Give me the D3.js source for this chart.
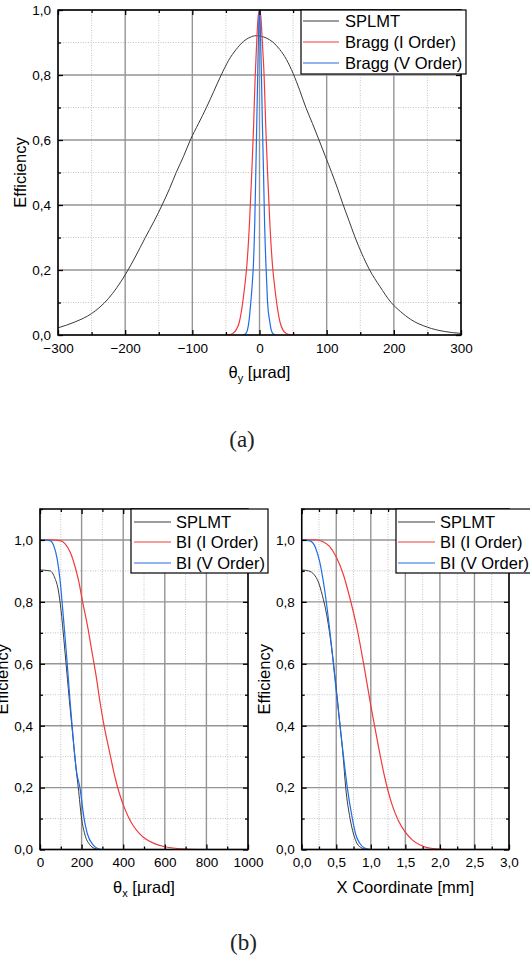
<!DOCTYPE html>
<html>
<head>
<meta charset="utf-8">
<script src="https://cdn.jsdelivr.net/npm/d3@7"></script>
<style>
  html, body { margin: 0; padding: 0; background: #fff; }
  svg { display: block; }
</style>
</head>
<body>
<svg id="chart" width="530" height="958"></svg>
<script>
// ---------------- DATA ----------------
// Panel (a): efficiency vs theta_y [µrad]
const splmtA = [[-300,0.022],[-275,0.04],[-250,0.066],[-225,0.112],[-200,0.185],[-185,0.24],[-170,0.30],[-157,0.35],[-145,0.40],[-134,0.45],[-124,0.50],[-113,0.55],[-103,0.60],[-91,0.65],[-79,0.70],[-68,0.75],[-57,0.80],[-46,0.845],[-35,0.878],[-24,0.903],[-14,0.916],[-5,0.921],[0,0.92],[10,0.914],[20,0.901],[30,0.879],[40,0.848],[50,0.805],[60,0.752],[69,0.70],[79,0.65],[88.6,0.60],[98,0.55],[107.4,0.50],[116,0.452],[123.8,0.405],[133,0.353],[142,0.302],[152,0.252],[164,0.20],[179,0.15],[196,0.10],[210,0.072],[225,0.048],[250,0.024],[275,0.011],[300,0.005]];
const braggIA = [[-50,0],[-45,0.001],[-40,0.005],[-35,0.015],[-30,0.04],[-25,0.10],[-22,0.15],[-19,0.21],[-15,0.34],[-11.5,0.50],[-9,0.63],[-6.5,0.79],[-4,0.91],[-2,0.98],[0,1.0],[2,0.98],[4,0.91],[7,0.79],[9.5,0.63],[12,0.50],[15.5,0.34],[19.5,0.21],[22.5,0.15],[25.5,0.10],[30.5,0.04],[35,0.015],[40,0.005],[45,0.001],[50,0]];
const braggVA = [[-25,0],[-21,0.003],[-18,0.015],[-15.5,0.045],[-13,0.10],[-11,0.15],[-9,0.22],[-7,0.35],[-5.5,0.50],[-4,0.66],[-2.5,0.82],[-1,0.96],[0,1.0],[1,0.96],[2.7,0.82],[4.2,0.66],[6,0.50],[7.5,0.35],[9.5,0.22],[11,0.15],[12,0.10],[15,0.045],[17.5,0.015],[20.5,0.003],[24,0]];

// Panel (b) left: efficiency vs theta_x [µrad]
const splmtB1 = [[0,0.903],[48,0.90],[72,0.876],[88,0.838],[101,0.774],[115,0.677],[128,0.58],[144,0.462],[160,0.354],[172,0.27],[184,0.20],[200,0.10],[215,0.05],[240,0.015],[260,0.004],[285,0]];
const biIB1 = [[0,1.0],[50,1.0],[96,0.998],[120,0.988],[147,0.958],[168,0.915],[185,0.87],[205,0.80],[229,0.72],[252,0.63],[270,0.56],[290,0.47],[308,0.40],[336,0.31],[360,0.235],[380,0.185],[400,0.145],[425,0.105],[450,0.075],[475,0.054],[500,0.038],[550,0.019],[600,0.009],[650,0.004],[700,0.0015],[800,0]];
const biVB1 = [[0,1.0],[48,0.998],[67,0.98],[83,0.937],[96,0.873],[112,0.754],[128,0.625],[144,0.484],[160,0.354],[176,0.25],[192,0.20],[212,0.10],[228,0.05],[255,0.015],[275,0.004],[300,0]];

// Panel (b) right: efficiency vs X coordinate [mm]
const splmtB2 = [[0,0.903],[0.1,0.90],[0.18,0.888],[0.24,0.865],[0.30,0.82],[0.36,0.76],[0.41,0.69],[0.46,0.60],[0.51,0.50],[0.555,0.40],[0.60,0.30],[0.637,0.20],[0.70,0.10],[0.75,0.05],[0.80,0.02],[0.87,0.005],[0.95,0]];
const biIB2 = [[0,1.0],[0.2,1.0],[0.3,0.995],[0.4,0.98],[0.5,0.945],[0.6,0.89],[0.7,0.81],[0.8,0.715],[0.9,0.595],[1.0,0.465],[1.1,0.345],[1.2,0.235],[1.3,0.15],[1.4,0.093],[1.5,0.056],[1.6,0.031],[1.7,0.016],[1.8,0.007],[1.9,0.003],[2.0,0.001],[2.1,0]];
const biVB2 = [[0,1.0],[0.12,0.997],[0.20,0.975],[0.26,0.93],[0.31,0.87],[0.35,0.81],[0.40,0.72],[0.455,0.61],[0.505,0.50],[0.555,0.40],[0.60,0.31],[0.66,0.20],[0.733,0.10],[0.78,0.05],[0.84,0.02],[0.91,0.005],[1.0,0]];

// Tick values
const xMajorA = [-300,-200,-100,0,100,200,300];
const xMinorA = [-250,-150,-50,50,150,250];
const yMajorA = [0,0.2,0.4,0.6,0.8,1.0];
const yMinorA = [0.1,0.3,0.5,0.7,0.9];
const xMajorB1 = [0,200,400,600,800,1000];
const xMinorB1 = [100,300,500,700,900];
const xMajorB2 = [0,0.5,1.0,1.5,2.0,2.5,3.0];
const xMinorB2 = [0.25,0.75,1.25,1.75,2.25,2.75];
const yMajorB = [0,0.2,0.4,0.6,0.8,1.0];
const yMinorB = [0.1,0.3,0.5,0.7,0.9,1.1];

// Legend labels
const legendA = ["SPLMT","Bragg (I Order)","Bragg (V Order)"];
const legendB = ["SPLMT","BI (I Order)","BI (V Order)"];

// ---------------- STYLE ----------------
const COL = ["#3a3a3a", "#f23a3a", "#1f6de6"];
const WID = [1.0, 1.2, 1.2];
const SANS = "'Liberation Sans', Arial, Helvetica, sans-serif";
const SERIF = "'Liberation Serif', 'Times New Roman', serif";

const loc = d3.formatLocale({decimal: ",", thousands: ".", grouping: [3], currency: ["", ""], minus: "\u2212"});
const fInt = loc.format("d");
const f1 = loc.format(".1f");

const svg = d3.select("#chart");

function panel(cfg) {
  const x = d3.scaleLinear().domain(cfg.xDomain).range([cfg.left, cfg.right]);
  const y = d3.scaleLinear().domain(cfg.yDomain).range([cfg.bottom, cfg.top]);
  const g = svg.append("g");

  // minor grid (dotted)
  g.append("g").selectAll("line").data(cfg.xMinor).join("line")
    .attr("x1", d => x(d)).attr("x2", d => x(d))
    .attr("y1", cfg.top).attr("y2", cfg.bottom)
    .attr("stroke", "#c4c4c4").attr("stroke-width", 1).attr("stroke-dasharray", "1,1.5");
  g.append("g").selectAll("line").data(cfg.yMinor).join("line")
    .attr("x1", cfg.left).attr("x2", cfg.right)
    .attr("y1", d => y(d)).attr("y2", d => y(d))
    .attr("stroke", "#c4c4c4").attr("stroke-width", 1).attr("stroke-dasharray", "1,1.5");
  // major grid (solid)
  g.append("g").selectAll("line").data(cfg.xMajor).join("line")
    .attr("x1", d => x(d)).attr("x2", d => x(d))
    .attr("y1", cfg.top).attr("y2", cfg.bottom)
    .attr("stroke", "#959595").attr("stroke-width", 1.4);
  g.append("g").selectAll("line").data(cfg.yMajor).join("line")
    .attr("x1", cfg.left).attr("x2", cfg.right)
    .attr("y1", d => y(d)).attr("y2", d => y(d))
    .attr("stroke", "#959595").attr("stroke-width", 1.4);

  // curves
  const line = d3.line().x(d => x(d[0])).y(d => y(d[1])).curve(d3.curveMonotoneX);
  const clipId = "clip" + cfg.id;
  svg.append("clipPath").attr("id", clipId).append("rect")
    .attr("x", cfg.left).attr("y", cfg.top - 2).attr("width", cfg.right - cfg.left).attr("height", cfg.bottom - cfg.top + 2);
  const cg = g.append("g").attr("clip-path", `url(#${clipId})`);
  cfg.series.forEach((s, i) => {
    cg.append("path").datum(s).attr("d", line)
      .attr("fill", "none").attr("stroke", COL[i]).attr("stroke-width", WID[i]);
  });

  // axes: inward major and minor ticks on all four sides
  function styleAxis(sel) {
    sel.select(".domain").remove();
    sel.selectAll(".tick line").attr("stroke", "#000").attr("stroke-width", 1.3);
    sel.selectAll("text").attr("font-family", SANS).attr("font-size", 13.5).attr("fill", "#000");
  }
  g.append("g").attr("transform", `translate(0,${cfg.bottom})`)
    .call(d3.axisBottom(x).tickValues(cfg.xMajor).tickSize(-5).tickSizeOuter(0).tickPadding(8).tickFormat(cfg.xFmt))
    .call(styleAxis);
  g.append("g").attr("transform", `translate(0,${cfg.bottom})`)
    .call(d3.axisBottom(x).tickValues(cfg.xMinor).tickSize(-3).tickSizeOuter(0).tickFormat(""))
    .call(styleAxis);
  g.append("g").attr("transform", `translate(0,${cfg.top})`)
    .call(d3.axisTop(x).tickValues(cfg.xMajor).tickSize(-5).tickSizeOuter(0).tickFormat(""))
    .call(styleAxis);
  g.append("g").attr("transform", `translate(0,${cfg.top})`)
    .call(d3.axisTop(x).tickValues(cfg.xMinor).tickSize(-3).tickSizeOuter(0).tickFormat(""))
    .call(styleAxis);
  g.append("g").attr("transform", `translate(${cfg.left},0)`)
    .call(d3.axisLeft(y).tickValues(cfg.yMajor).tickSize(-5).tickSizeOuter(0).tickPadding(7).tickFormat(f1))
    .call(styleAxis);
  g.append("g").attr("transform", `translate(${cfg.left},0)`)
    .call(d3.axisLeft(y).tickValues(cfg.yMinor).tickSize(-3).tickSizeOuter(0).tickFormat(""))
    .call(styleAxis);
  g.append("g").attr("transform", `translate(${cfg.right},0)`)
    .call(d3.axisRight(y).tickValues(cfg.yMajor).tickSize(-5).tickSizeOuter(0).tickFormat(""))
    .call(styleAxis);
  g.append("g").attr("transform", `translate(${cfg.right},0)`)
    .call(d3.axisRight(y).tickValues(cfg.yMinor).tickSize(-3).tickSizeOuter(0).tickFormat(""))
    .call(styleAxis);

  // frame
  g.append("rect").attr("x", cfg.left).attr("y", cfg.top)
    .attr("width", cfg.right - cfg.left).attr("height", cfg.bottom - cfg.top)
    .attr("fill", "none").attr("stroke", "#000").attr("stroke-width", 1.5);

  // x title
  const xt = g.append("text").attr("x", (cfg.left + cfg.right) / 2).attr("y", cfg.bottom + 43)
    .attr("text-anchor", "middle").attr("font-family", SANS).attr("font-size", 16.5).attr("fill", "#000");
  cfg.xTitle.forEach(p => {
    const t = xt.append("tspan").text(p.t);
    if (p.sub) t.attr("font-size", 11).attr("dy", 4);
    else if (p.after) t.attr("dy", -4);
  });
  // y title
  g.append("text").attr("transform", `translate(${cfg.left - 32},${(cfg.top + cfg.bottom) / 2}) rotate(-90)`)
    .attr("text-anchor", "middle").attr("font-family", SANS).attr("font-size", 16.5).attr("fill", "#000")
    .text("Efficiency");

  // legend
  const L = cfg.legend;
  const lg = svg.append("g");
  lg.append("rect").attr("x", L.x0).attr("y", L.y0).attr("width", L.x1 - L.x0).attr("height", L.y1 - L.y0)
    .attr("fill", "#fff").attr("stroke", "#000").attr("stroke-width", 1.2);
  L.labels.forEach((lab, i) => {
    const yy = L.rows[i];
    lg.append("line").attr("x1", L.lx0).attr("x2", L.lx1).attr("y1", yy).attr("y2", yy)
      .attr("stroke", COL[i]).attr("stroke-width", WID[i]);
    lg.append("text").attr("x", L.tx).attr("y", yy + 6).attr("font-family", SANS).attr("font-size", 16.5)
      .attr("fill", "#000").text(lab);
  });
}

panel({
  id: "A", left: 58, right: 461, top: 10, bottom: 335,
  xDomain: [-300, 300], yDomain: [0, 1],
  xMajor: xMajorA, xMinor: xMinorA, yMajor: yMajorA, yMinor: yMinorA,
  xFmt: fInt,
  series: [splmtA, braggIA, braggVA],
  xTitle: [{t: "θ"}, {t: "y", sub: true}, {t: " [µrad]", after: true}],
  legend: {x0: 301, x1: 466, y0: 10, y1: 74, lx0: 303, lx1: 339, tx: 345, rows: [21, 42, 63], labels: legendA}
});
panel({
  id: "B1", left: 40, right: 248, top: 509, bottom: 849.5,
  xDomain: [0, 1000], yDomain: [0, 1.1],
  xMajor: xMajorB1, xMinor: xMinorB1, yMajor: yMajorB, yMinor: yMinorB,
  xFmt: fInt,
  series: [splmtB1, biIB1, biVB1],
  xTitle: [{t: "θ"}, {t: "x", sub: true}, {t: " [µrad]", after: true}],
  legend: {x0: 131, x1: 268, y0: 509, y1: 573, lx0: 134, lx1: 171, tx: 176, rows: [522, 542, 563], labels: legendB}
});
panel({
  id: "B2", left: 301.7, right: 509, top: 509, bottom: 849.5,
  xDomain: [0, 3], yDomain: [0, 1.1],
  xMajor: xMajorB2, xMinor: xMinorB2, yMajor: yMajorB, yMinor: yMinorB,
  xFmt: f1,
  series: [splmtB2, biIB2, biVB2],
  xTitle: [{t: "X Coordinate [mm]"}],
  legend: {x0: 396, x1: 536, y0: 509, y1: 573, lx0: 398, lx1: 435, tx: 440, rows: [522, 542, 563], labels: legendB}
});

// sub-figure captions
svg.append("text").attr("x", 242).attr("y", 447).attr("text-anchor", "middle")
  .attr("font-family", SERIF).attr("font-size", 23).attr("fill", "#222").text("(a)");
svg.append("text").attr("x", 243.5).attr("y", 950).attr("text-anchor", "middle")
  .attr("font-family", SERIF).attr("font-size", 23).attr("fill", "#222").text("(b)");
</script>
</body>
</html>
